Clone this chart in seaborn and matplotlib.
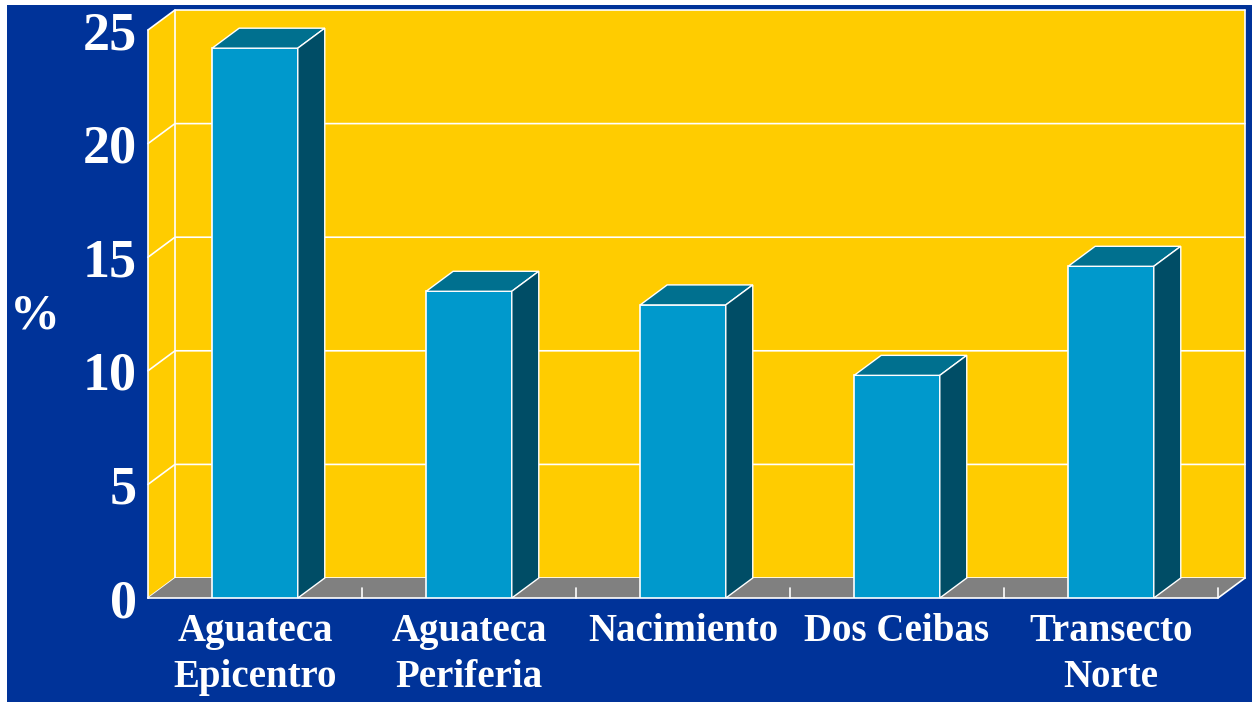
import matplotlib
matplotlib.use("Agg")
import matplotlib.pyplot as plt
from matplotlib.patches import Polygon, Rectangle
import seaborn as sns
import pandas as pd

# data
categories = ["Aguateca\nEpicentro", "Aguateca\nPeriferia", "Nacimiento",
              "Dos Ceibas", "Transecto\nNorte"]
values = [24.2, 13.5, 12.9, 9.8, 14.6]
y_ticks = [0, 5, 10, 15, 20, 25]

# colours
BLUE_BG = "#003399"
YELLOW = "#FFCC00"
BAR_FRONT = "#0099CC"
BAR_TOP = "#00708F"
BAR_SIDE = "#004D66"
FLOOR = "#808080"

# fake 3D depth (in data units)
DX, DY = 0.126, 0.88

sns.set_style("white")
plt.rcParams["font.family"] = ["Liberation Serif", "DejaVu Serif"]
plt.rcParams["font.weight"] = "bold"

fig = plt.figure(figsize=(12.52, 7.02), dpi=100, facecolor="white")
fig.patches.append(Rectangle((7 / 1252, 0), 1 - 7 / 1252, 1 - 5 / 702,
                             transform=fig.transFigure, facecolor=BLUE_BG,
                             edgecolor="none", zorder=-5))

ax = fig.add_axes([148 / 1252, 104 / 702, 1070 / 1252, 568 / 702])
ax.set_facecolor("none")

df = pd.DataFrame({"site": categories, "pct": values})
sns.barplot(data=df, x="site", y="pct", width=0.4, color=BAR_FRONT,
            saturation=1, edgecolor="white", linewidth=1.2, ax=ax, zorder=3)

x0, x1 = -0.5, len(categories) - 0.5
ymax = y_ticks[-1]
ax.set_xlim(x0, x1)
ax.set_ylim(0, ymax)

wkw = dict(color="white", lw=1.2, clip_on=False)

# back wall
ax.add_patch(Polygon([(x0 + DX, DY), (x1 + DX, DY), (x1 + DX, ymax + DY), (x0 + DX, ymax + DY)],
                     closed=True, facecolor=YELLOW, edgecolor="none", clip_on=False, zorder=0.5))
# left wall
ax.add_patch(Polygon([(x0, 0), (x0 + DX, DY), (x0 + DX, ymax + DY), (x0, ymax)],
                     closed=True, facecolor=YELLOW, edgecolor="none", clip_on=False, zorder=0.6))
# gridlines on both walls
for t in y_ticks:
    ax.plot([x0, x0 + DX, x1 + DX], [t, t + DY, t + DY], zorder=0.7, **wkw)
ax.plot([x0 + DX, x0 + DX], [DY, ymax + DY], zorder=0.7, **wkw)
ax.plot([x1 + DX, x1 + DX], [DY, ymax + DY], zorder=0.7, **wkw)
ax.plot([x0, x0], [0, ymax], zorder=0.7, **wkw)

# floor
ax.add_patch(Polygon([(x0, 0), (x1, 0), (x1 + DX, DY), (x0 + DX, DY)],
                     closed=True, facecolor=FLOOR, edgecolor="none", clip_on=False, zorder=0.8))
ax.plot([x0, x1, x1 + DX], [0, 0, DY], zorder=0.9, **wkw)
for i in range(len(categories)):
    ax.plot([i + 0.5, i + 0.5], [0, 0.45], zorder=0.9, **wkw)

# top and side faces of each bar
for bar in ax.patches[:]:
    if not hasattr(bar, "get_width") or bar.get_height() <= 0:
        continue
    bx, bw, bh = bar.get_x(), bar.get_width(), bar.get_height()
    ax.add_patch(Polygon([(bx, bh), (bx + bw, bh), (bx + bw + DX, bh + DY), (bx + DX, bh + DY)],
                         closed=True, facecolor=BAR_TOP, edgecolor="white", lw=1.0,
                         clip_on=False, zorder=4))
    ax.add_patch(Polygon([(bx + bw, 0), (bx + bw + DX, DY), (bx + bw + DX, bh + DY), (bx + bw, bh)],
                         closed=True, facecolor=BAR_SIDE, edgecolor="white", lw=1.0,
                         clip_on=False, zorder=4))

for s in ax.spines.values():
    s.set_visible(False)

ax.set_yticks(y_ticks)
ax.set_yticklabels([str(t) for t in y_ticks])
ax.tick_params(axis="y", length=0, pad=8, labelsize=39, labelcolor="white")
ax.tick_params(axis="x", length=0, pad=11, labelsize=28, labelcolor="white")
for lab in ax.get_xticklabels():
    lab.set_linespacing(1.3)
    lab.set_fontweight("bold")
for lab in ax.get_yticklabels():
    lab.set_fontweight("bold")

ax.set_xlabel("")
ax.set_ylabel("%", rotation=0, fontsize=36, color="white", fontweight="bold",
              ha="center", va="center")
ax.yaxis.set_label_coords(-0.1056, 0.495)

fig.savefig("out.png", dpi=100, facecolor=fig.get_facecolor())
